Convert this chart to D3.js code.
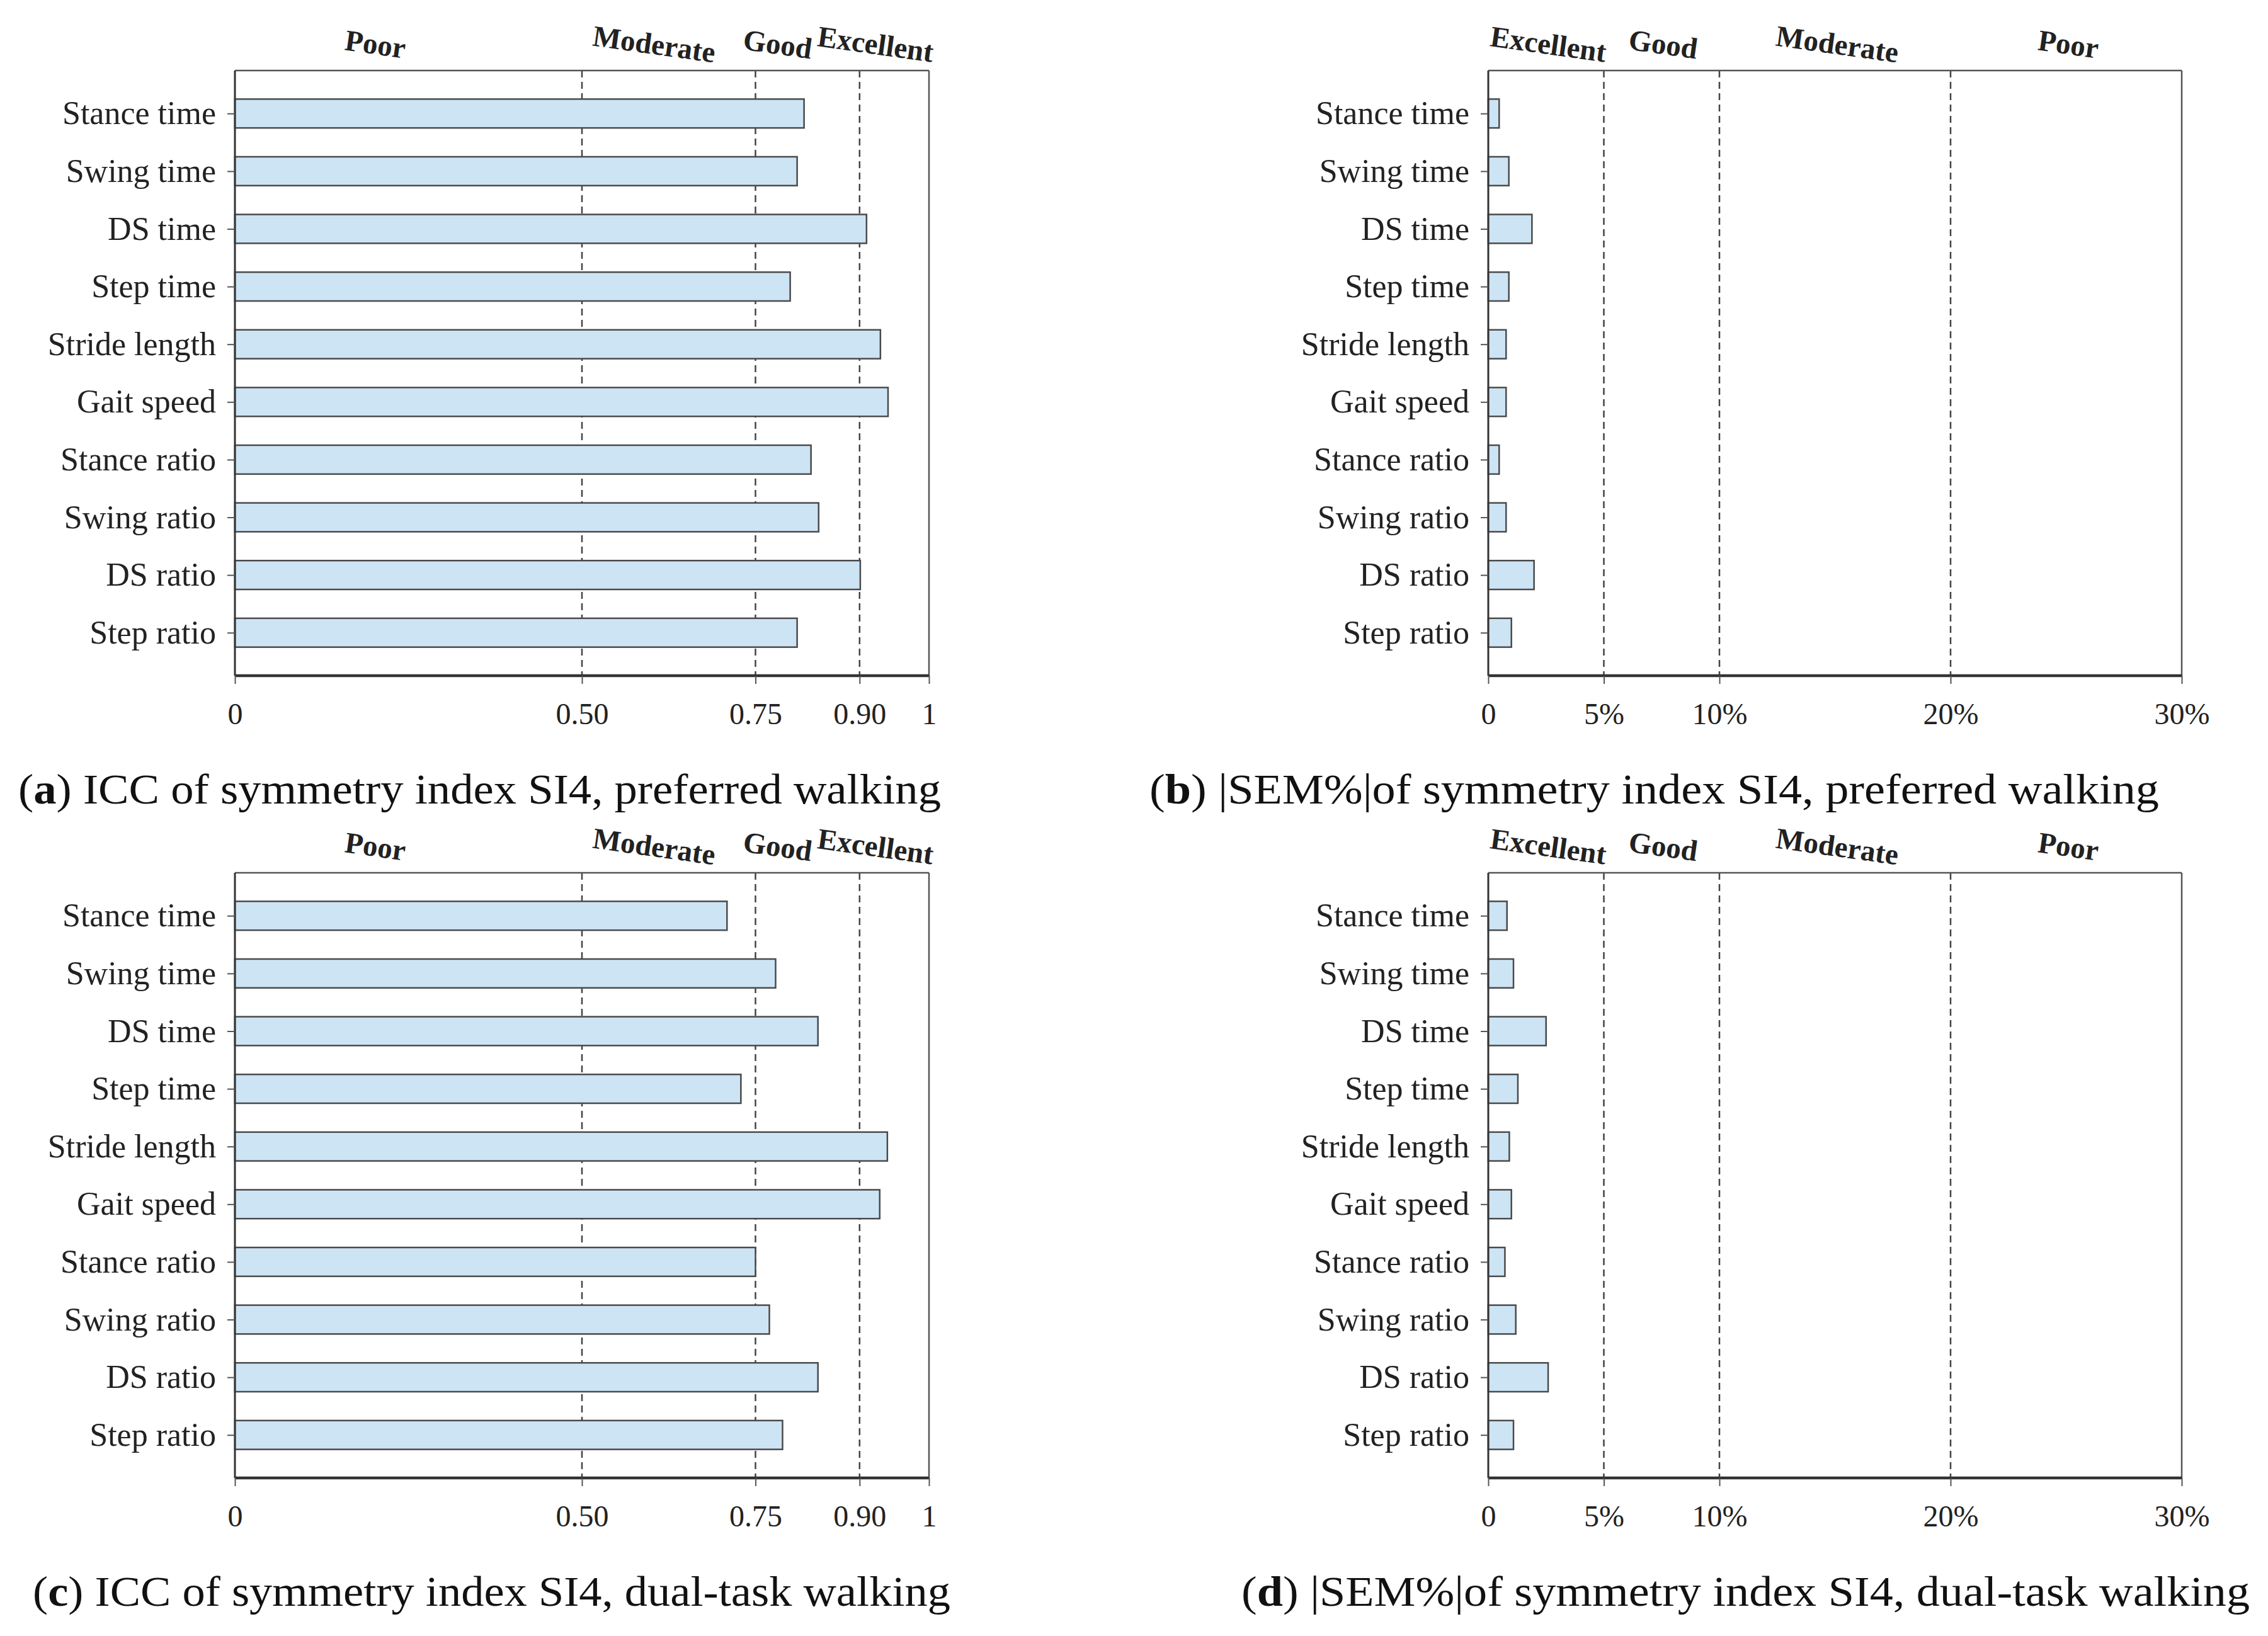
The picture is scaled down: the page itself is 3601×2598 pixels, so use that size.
<!DOCTYPE html>
<html>
<head>
<meta charset="utf-8">
<script src="https://cdn.jsdelivr.net/npm/d3@7"></script>
<style>
  html, body { margin: 0; padding: 0; background: #fff; }
  svg { display: block; }
</style>
</head>
<body>
<div id="root"></div>
<script>
// gait parameters, top to bottom
const categories = ["Stance time", "Swing time", "DS time", "Step time", "Stride length",
  "Gait speed", "Stance ratio", "Swing ratio", "DS ratio", "Step ratio"]

// ICC of SI4
const iccPreferred = [0.820, 0.810, 0.910, 0.800, 0.930, 0.941, 0.830, 0.841, 0.901, 0.810]
const iccDualTask  = [0.709, 0.779, 0.840, 0.729, 0.940, 0.929, 0.750, 0.770, 0.840, 0.789]

// |SEM%| of SI4
const semPreferred = [0.47, 0.89, 1.89, 0.89, 0.77, 0.77, 0.47, 0.77, 1.98, 1.0]
const semDualTask  = [0.81, 1.09, 2.50, 1.28, 0.91, 1.00, 0.72, 1.19, 2.59, 1.09]

const iccTicks = [0, 0.5, 0.75, 0.9, 1]
const iccTickLabels = ["0", "0.50", "0.75", "0.90", "1"]
const iccThresholds = [0.5, 0.75, 0.9]
const iccZones = ["Poor", "Moderate", "Good", "Excellent"]

const semTicks = [0, 5, 10, 20, 30]
const semTickLabels = ["0", "5%", "10%", "20%", "30%"]
const semThresholds = [5, 10, 20]
const semZones = ["Excellent", "Good", "Moderate", "Poor"]

const captions = [
  ["a", "ICC of symmetry index SI4, preferred walking"],
  ["b", "|SEM%|of symmetry index SI4, preferred walking"],
  ["c", "ICC of symmetry index SI4, dual-task walking"],
  ["d", "|SEM%|of symmetry index SI4, dual-task walking"]
]

const W = 3601, H = 2598
const serif = "'Liberation Serif', 'Times New Roman', serif"

const svg = d3.select('#root').append('svg')
  .attr('width', W).attr('height', H)
  .attr('viewBox', `0 0 ${W} ${H}`)

const drawPanel = (opt) => {
  const g = svg.append('g')
  const top = opt.top, bottom = opt.top + 961
  const x = d3.scaleLinear().domain(opt.domain).range([opt.left, opt.left + opt.width])
  const y = d3.scalePoint().domain(categories).range([top, bottom]).padding(0.745)
  const barH = y.step() * 0.5

  // threshold lines
  g.selectAll('line.thr').data(opt.thresholds).enter().append('line')
    .attr('x1', d => x(d)).attr('x2', d => x(d))
    .attr('y1', top).attr('y2', bottom)
    .attr('stroke', '#444').attr('stroke-width', 2.5)
    .attr('stroke-dasharray', '11,7')

  // bars
  g.selectAll('rect.bar').data(opt.values).enter().append('rect')
    .attr('x', x(0))
    .attr('y', (d, i) => y(categories[i]) - barH / 2)
    .attr('width', d => x(d) - x(0))
    .attr('height', barH)
    .attr('fill', '#cde4f5')
    .attr('stroke', '#4a4a4a')
    .attr('stroke-width', 2.5)

  // frame top / right
  g.append('line').attr('x1', x.range()[0]).attr('x2', x.range()[1])
    .attr('y1', top).attr('y2', top).attr('stroke', '#555').attr('stroke-width', 2.5)
  g.append('line').attr('x1', x.range()[1]).attr('x2', x.range()[1])
    .attr('y1', top).attr('y2', bottom).attr('stroke', '#555').attr('stroke-width', 2.5)

  // y axis
  const yAxis = g.append('g').attr('transform', `translate(${x.range()[0]},0)`)
    .call(d3.axisLeft(y).tickSize(12).tickPadding(18))
  yAxis.select('.domain').attr('stroke', '#333').attr('stroke-width', 3)
    .attr('d', `M0,${top}V${bottom}`)
  yAxis.selectAll('.tick line').attr('stroke', '#555').attr('stroke-width', 2)
  yAxis.selectAll('.tick text')
    .attr('font-family', serif).attr('font-size', 52).attr('fill', '#222')

  // x axis
  const xAxis = g.append('g').attr('transform', `translate(0,${bottom})`)
    .call(d3.axisBottom(x).tickValues(opt.ticks)
      .tickFormat((d, i) => opt.tickLabels[i]).tickSize(13).tickPadding(30))
  xAxis.select('.domain').attr('stroke', '#333').attr('stroke-width', 4.5)
    .attr('d', `M${x.range()[0]},0H${x.range()[1]}`)
  xAxis.selectAll('.tick line').attr('stroke', '#555').attr('stroke-width', 2)
  xAxis.selectAll('.tick text')
    .attr('font-family', serif).attr('font-size', 48).attr('fill', '#222')

  // zone headers, slightly tilted
  g.selectAll('text.zone').data(opt.zones).enter().append('text')
    .attr('transform', (d, i) => `translate(${x(opt.zoneAt[i])},${top - 42}) rotate(8)`)
    .attr('text-anchor', 'middle')
    .attr('dominant-baseline', 'central')
    .attr('font-family', serif).attr('font-weight', 'bold')
    .attr('font-size', 47).attr('fill', '#222')
    .text(d => d)

  // caption
  const cap = svg.append('text')
    .attr('x', opt.capX).attr('y', bottom + 203)
    .attr('font-family', "'Liberation Serif', serif").attr('font-size', 68)
    .attr('fill', '#111')
    .attr('textLength', opt.capW).attr('lengthAdjust', 'spacingAndGlyphs')
  cap.append('tspan').text('(')
  cap.append('tspan').attr('font-weight', 'bold').text(opt.caption[0])
  cap.append('tspan').text(') ' + opt.caption[1])
}

const iccZoneAt = [0.2025, 0.604, 0.782, 0.923]
const semZoneAt = [2.6, 7.57, 15.1, 25.1]

drawPanel({ left: 373, width: 1102, top: 112, domain: [0, 1], values: iccPreferred,
  ticks: iccTicks, tickLabels: iccTickLabels, thresholds: iccThresholds,
  zones: iccZones, zoneAt: iccZoneAt, caption: captions[0], capX: 29, capW: 1465 })

drawPanel({ left: 2363, width: 1101, top: 112, domain: [0, 30], values: semPreferred,
  ticks: semTicks, tickLabels: semTickLabels, thresholds: semThresholds,
  zones: semZones, zoneAt: semZoneAt, caption: captions[1], capX: 1825, capW: 1603 })

drawPanel({ left: 373, width: 1102, top: 1386, domain: [0, 1], values: iccDualTask,
  ticks: iccTicks, tickLabels: iccTickLabels, thresholds: iccThresholds,
  zones: iccZones, zoneAt: iccZoneAt, caption: captions[2], capX: 52, capW: 1457 })

drawPanel({ left: 2363, width: 1101, top: 1386, domain: [0, 30], values: semDualTask,
  ticks: semTicks, tickLabels: semTickLabels, thresholds: semThresholds,
  zones: semZones, zoneAt: semZoneAt, caption: captions[3], capX: 1971, capW: 1601 })
</script>
</body>
</html>
